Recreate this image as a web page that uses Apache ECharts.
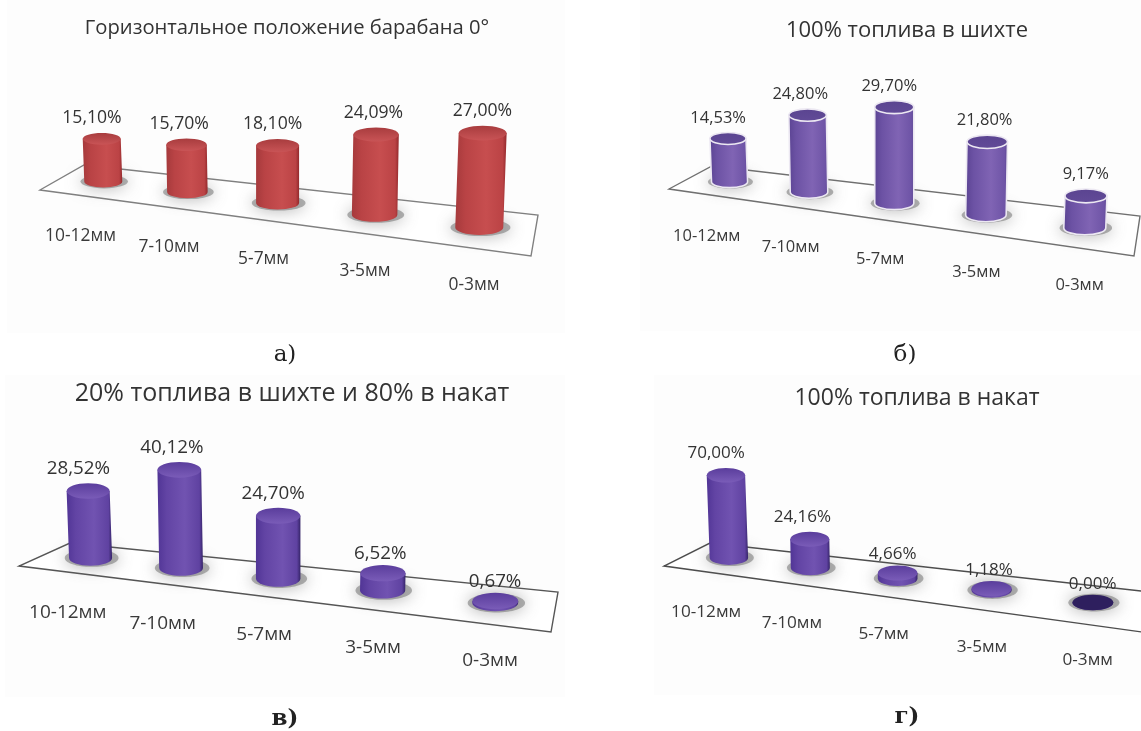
<!DOCTYPE html>
<html>
<head>
<meta charset="utf-8">
<style>html,body{margin:0;background:#fff}#chart{width:1141px;height:731px}</style>
<script src="https://cdn.jsdelivr.net/npm/echarts@6/dist/echarts.min.js"></script>
</head>
<body>
<div id="chart"></div>
<script>
const categories = ['10-12мм', '7-10мм', '5-7мм', '3-5мм', '0-3мм'];
const valuesA = [15.10, 15.70, 18.10, 24.09, 27.00];
const valuesB = [14.53, 24.80, 29.70, 21.80, 9.17];
const valuesC = [28.52, 40.12, 24.70, 6.52, 0.67];
const valuesD = [70.00, 24.16, 4.66, 1.18, 0.00];
const titles = ['Горизонтальное положение барабана 0°', '100% топлива в шихте', '20% топлива в шихте и 80% в накат', '100% топлива в накат'];
const captions = ['а)', 'б)', 'в)', 'г)'];

const FONT = '"Open Sans", sans-serif';
const WARP = 1.2;   // bars get closer together toward the far (left) end
const LEAN = 0.09;

const RED = { side: ['#a63a3c', '#b94345', '#c74e4f', '#bb4345', '#93292c'], topA: '#a83c3e', topB: '#c95456', stroke: null };
const PURPLE = { side: ['#513596', '#6244a4', '#7153b1', '#5f42a1', '#352468'], topA: '#5a3d9c', topB: '#7a5cb8', stroke: null };
const PURPLE_RIM = { side: ['#5a4392', '#6c52a4', '#8064b4', '#6e54a6', '#4f3a86'], topA: '#5a4490', topB: '#624b98', stroke: '#ece8f2' };

const panels = [
  { values: valuesA, colors: RED, max: 60, grow: 0.26, widen: 0.29, ratio: 0.455, flat: 0.31, depth: 0.47, labelSize: 17.6, catSize: 17.4,
    lineColor: '#808080', back: [[84, 165], [538, 215]], front: [[40, 190], [531, 256]], gridTop: 60, gridH: 190,
    sheet: [7, 0, 558, 333], title: [287, 28, 20.2], caption: [285, 355] },
  { values: valuesB, colors: PURPLE_RIM, max: 60, grow: 0.20, widen: 0.19, ratio: 0.437, flat: 0.33, depth: 0.47, labelSize: 16.5, catSize: 16.5,
    lineColor: '#707070', back: [[712, 166], [1140, 216]], front: [[669, 189], [1134, 256]], gridTop: 60, gridH: 194,
    sheet: [640, 0, 501, 331], title: [907, 31, 22], caption: [905, 355] },
  { values: valuesC, colors: PURPLE, max: 80, grow: 0.20, widen: 0.08, ratio: 0.436, flat: 0.36, depth: 0.44, labelSize: 18.8, catSize: 19,
    lineColor: '#555555', back: [[70, 543], [558, 592]], front: [[19, 566], [551, 632]], gridTop: 430, gridH: 204,
    sheet: [5, 375, 560, 322], title: [292, 394, 25], caption: [285, 719] },
  { values: valuesD, colors: PURPLE, max: 180, grow: 0, widen: 0.08, ratio: 0.437, flat: 0.38, depth: 0.43, labelSize: 17, catSize: 17.2,
    lineColor: '#4d4d4d', back: [[710, 543], [1150, 592]], front: [[664, 566], [1142, 632]], gridTop: 430, gridH: 212,
    sheet: [654, 375, 487, 320], title: [917, 398, 23], caption: [907, 717] }
];

function lerp(a, b, t) {
  return [a[0] + (b[0] - a[0]) * t, a[1] + (b[1] - a[1]) * t];
}
function floorPoint(p, t, v) {
  return lerp(lerp(p.back[0], p.back[1], t), lerp(p.front[0], p.front[1], t), v);
}
function warp(u) {
  return u / (u + WARP * (1 - u));
}
function sideGrad(c) {
  const at = [0, 0.2, 0.6, 0.92, 1];
  return new echarts.graphic.LinearGradient(0, 0, 1, 0, c.side.map((color, i) => ({ offset: at[i], color: color })));
}

function renderFloor(p) {
  return function () {
    return {
      type: 'polygon',
      shape: { points: [p.back[0], p.back[1], p.front[1], p.front[0]] },
      style: { fill: '#ffffff', stroke: p.lineColor, lineWidth: 1.4 }
    };
  };
}

function renderBar(p) {
  return function (params, api) {
    const idx = api.value(0);
    const v = api.value(1);
    const cs = params.coordSys;
    const u = (api.coord([idx, 0])[0] - cs.x) / cs.width;
    const base = floorPoint(p, warp(u), p.depth);
    const h = api.size([0, v])[1] * (1 + p.grow * (u - 0.5));
    const rx = api.size([1, 0])[0] * p.ratio * (1 + p.widen * (u - 0.5)) / 2;
    const ry = rx * p.flat;
    const top = [base[0] + LEAN * h * (u - 0.5), base[1] - h];
    const c = p.colors;
    const lineW = c.stroke ? 1.6 : 0;
    const body = 'M' + (top[0] - rx) + ' ' + top[1] + 'L' + (base[0] - rx) + ' ' + base[1] +
      'A' + rx + ' ' + ry + ' 0 0 0 ' + (base[0] + rx) + ' ' + base[1] +
      'L' + (top[0] + rx) + ' ' + top[1] + 'Z';
    const topFill = v === 0 ? '#2e1f5e' : new echarts.graphic.LinearGradient(0, 0, 0, 1, [
      { offset: 0, color: c.topA }, { offset: 1, color: c.topB }
    ]);
    const gap = h < 20 ? 11 : 14.5;
    return {
      type: 'group',
      children: [
        {
          type: 'ellipse',
          shape: { cx: base[0] + rx * 0.05, cy: base[1], rx: rx * 1.25, ry: ry * 1.15 },
          style: { fill: 'rgba(125,125,125,0.6)', shadowBlur: 16, shadowColor: 'rgba(110,110,110,0.9)' }
        },
        {
          type: 'path',
          shape: { pathData: body },
          style: { fill: sideGrad(c), stroke: c.stroke, lineWidth: lineW }
        },
        {
          type: 'ellipse',
          shape: { cx: top[0], cy: top[1], rx: rx, ry: ry },
          style: { fill: topFill, stroke: c.stroke, lineWidth: lineW }
        },
        {
          type: 'text',
          style: {
            x: top[0] - 11 + 12 * u, y: top[1] - ry - gap,
            text: v.toFixed(2).replace('.', ',') + '%',
            fill: '#333', font: p.labelSize + 'px ' + FONT, align: 'center', verticalAlign: 'middle'
          }
        },
        {
          type: 'text',
          style: {
            x: base[0] - 25 + 22 * u, y: base[1] + 54 + 4 * u,
            text: categories[idx],
            fill: '#3a3a3a', font: p.catSize + 'px ' + FONT, align: 'center', verticalAlign: 'middle'
          }
        }
      ]
    };
  };
}

function gridRect(p) {
  const left = (p.back[0][0] + p.front[0][0]) / 2;
  const right = (p.back[1][0] + p.front[1][0]) / 2;
  return { left: left, width: right - left, top: p.gridTop, height: p.gridH };
}

const option = {
  animation: false,
  backgroundColor: '#ffffff',
  title: panels.flatMap((p, i) => [
    {
      text: titles[i], left: p.title[0], top: p.title[1], textAlign: 'center', textVerticalAlign: 'middle', padding: 0,
      textStyle: { fontFamily: FONT, fontSize: p.title[2], fontWeight: 'normal', color: '#333' }
    },
    {
      text: captions[i], left: p.caption[0], top: p.caption[1], textAlign: 'center', textVerticalAlign: 'middle', padding: 0,
      textStyle: { fontFamily: '"DejaVu Serif", serif', fontSize: 23, fontWeight: i < 2 ? 'normal' : 'bold', color: '#222' }
    }
  ]),
  graphic: panels.map(p => ({
    type: 'rect', z: -1, silent: true,
    shape: { x: p.sheet[0], y: p.sheet[1], width: p.sheet[2], height: p.sheet[3] },
    style: { fill: '#fdfdfd' }
  })),
  grid: panels.map(gridRect),
  xAxis: panels.map((p, i) => ({ type: 'category', gridIndex: i, data: categories, show: false })),
  yAxis: panels.map((p, i) => ({ type: 'value', gridIndex: i, min: 0, max: p.max, show: false })),
  series: panels.flatMap((p, i) => [
    {
      type: 'custom', xAxisIndex: i, yAxisIndex: i, clip: false, silent: true, z: 1,
      renderItem: renderFloor(p), data: [[0, 0]], encode: { x: 0, y: 1 }
    },
    {
      type: 'custom', xAxisIndex: i, yAxisIndex: i, clip: false, silent: true, z: 2,
      renderItem: renderBar(p), data: p.values.map((v, k) => [k, v]), encode: { x: 0, y: 1 }
    }
  ])
};

const chart = echarts.init(document.getElementById('chart'));
chart.setOption(option);
</script>
</body>
</html>
